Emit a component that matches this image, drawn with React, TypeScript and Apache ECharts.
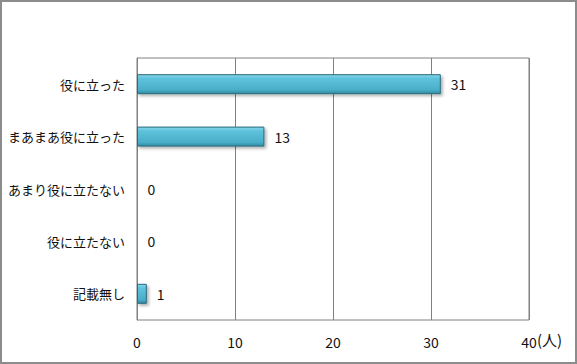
import React, { useEffect, useRef } from "react";
import * as echarts from "echarts";

const categories = ["役に立った", "まあまあ役に立った", "あまり役に立たない", "役に立たない", "記載無し"];
const values = [31, 13, 0, 0, 1];
const xTicks = [0, 10, 20, 30, 40];
const unitLabel = "(人)";

export default function App() {
  const ref = useRef<HTMLDivElement>(null);
  useEffect(() => {
    if (!ref.current) return;
    const chart = echarts.init(ref.current, undefined, { renderer: "svg" });
    const font = "'Noto Sans CJK JP', 'Noto Sans', sans-serif";
    chart.setOption({
      animation: false,
      backgroundColor: "#ffffff",
      textStyle: { fontFamily: font },
      graphic: [
        {
          type: "rect",
          shape: { x: 1, y: 1, width: 575, height: 362 },
          style: { fill: "none", stroke: "#8c8c8c", lineWidth: 2 },
          silent: true,
          z: 100,
        },
        {
          type: "text",
          left: 537,
          top: 332,
          style: { text: unitLabel, fontSize: 15, fill: "#111", fontFamily: font },
        },
      ],
      grid: { left: 137, right: 48, top: 58, bottom: 44, show: true, borderColor: "#808080", borderWidth: 1, backgroundColor: "transparent" },
      xAxis: {
        type: "value",
        min: xTicks[0],
        max: xTicks[xTicks.length - 1],
        interval: 10,
        axisLine: { show: false },
        axisTick: { show: false },
        splitLine: { show: true, lineStyle: { color: "#808080", width: 1 } },
        axisLabel: { margin: 15, fontSize: 14, color: "#111", fontFamily: font },
      },
      yAxis: {
        type: "category",
        data: categories,
        inverse: true,
        axisLine: { show: true, lineStyle: { color: "#808080" } },
        axisTick: { show: false },
        axisLabel: { margin: 12, fontSize: 13, color: "#111", fontFamily: font },
      },
      series: [
        {
          type: "bar",
          data: values,
          barWidth: 20,
          itemStyle: {
            color: new echarts.graphic.LinearGradient(0, 0, 0, 1, [
              { offset: 0, color: "#86d6ea" },
              { offset: 0.2, color: "#5fc2dc" },
              { offset: 0.8, color: "#4aaec8" },
              { offset: 1, color: "#2f8aa2" },
            ]),
            borderColor: "#2a6a7c",
            borderWidth: 1,
            shadowBlur: 3,
            shadowOffsetX: 2,
            shadowOffsetY: 2,
            shadowColor: "rgba(0,0,0,0.3)",
          },
          label: {
            show: true,
            position: "right",
            distance: 10,
            fontSize: 14,
            color: "#111",
            fontFamily: font,
          },
        },
      ],
    });
    return () => chart.dispose();
  }, []);
  return <div ref={ref} style={{ width: 577, height: 364, position: "absolute", left: 0, top: 0 }} />;
}
